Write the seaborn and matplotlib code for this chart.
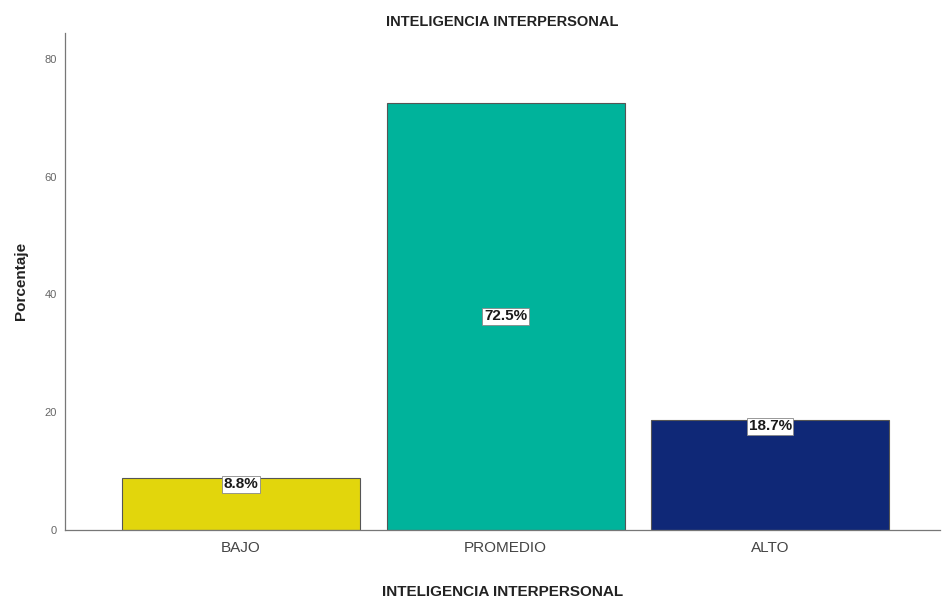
import matplotlib
matplotlib.use('Agg')
import matplotlib.pyplot as plt
import seaborn as sns
import pandas as pd

# --- datos ---
categorias = ['BAJO', 'PROMEDIO', 'ALTO']
porcentajes = [8.8, 72.5, 18.7]
colores = ['#E2D60C', '#00B39B', '#0F2877']

df = pd.DataFrame({'nivel': categorias, 'pct': porcentajes})

sns.set_style('white')
plt.rcParams['font.family'] = ['Liberation Sans', 'DejaVu Sans']

fig = plt.figure(figsize=(9.44, 6), dpi=100)
ax = fig.add_axes([0.069, 0.117, 0.927, 0.828])

sns.barplot(data=df, x='nivel', y='pct', hue='nivel', palette=colores,
            saturation=1, width=0.9, edgecolor='#555555', linewidth=0.8,
            legend=False, ax=ax)

# etiquetas de porcentaje
for i, v in enumerate(porcentajes):
    y = v / 2 if v > 40 else v - 1.1
    ax.text(i, y, f'{v:.1f}%', ha='center', va='center', fontsize=11,
            color='#1a1a1a', fontweight='bold',
            bbox=dict(boxstyle='square,pad=0.1', facecolor='white',
                      edgecolor='#888888', linewidth=0.6))

ax.set_xlim(-0.665, 2.643)
ax.set_ylim(0, 84.4)
ax.set_yticks([0, 20, 40, 60, 80])
ax.tick_params(axis='y', labelsize=8, labelcolor='#666666', length=0, pad=6)
ax.tick_params(axis='x', labelsize=11, labelcolor='#444444', length=0, pad=8)

ax.set_title('INTELIGENCIA INTERPERSONAL', fontsize=10.5, fontweight='bold', pad=5,
             color='#222222')
ax.set_xlabel('INTELIGENCIA INTERPERSONAL', fontsize=11, fontweight='bold', labelpad=22,
              color='#222222')
ax.set_ylabel('Porcentaje', fontsize=11, fontweight='bold', labelpad=12, color='#222222')

sns.despine(ax=ax)
for s in ['left', 'bottom']:
    ax.spines[s].set_color('#777777')
    ax.spines[s].set_linewidth(0.9)

fig.savefig('out.png', dpi=100)
